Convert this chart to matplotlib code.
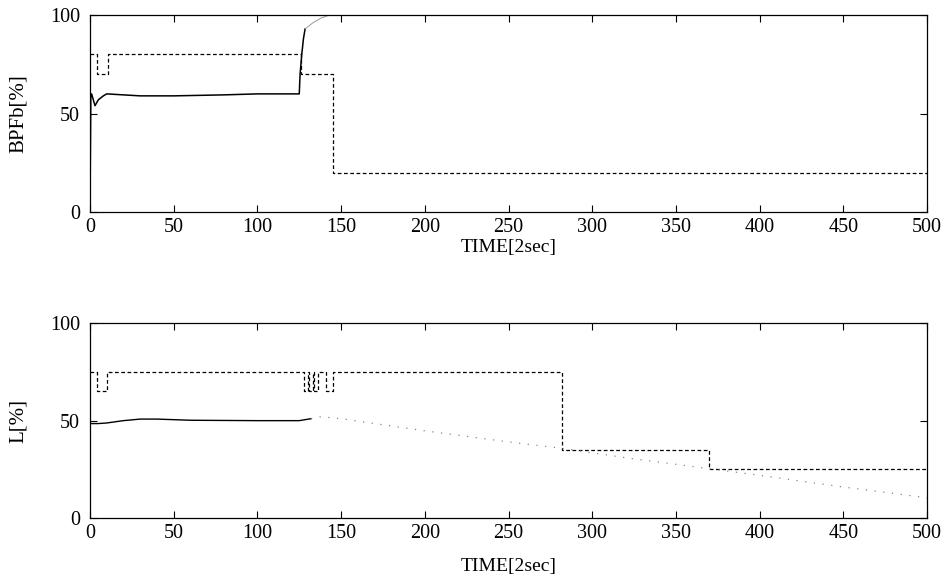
import matplotlib
matplotlib.use("Agg")
import matplotlib.pyplot as plt

# ---- data ----
# Top panel: BPFb[%]
bpf_ref_t = [0, 4, 11, 126, 145, 500]
bpf_ref_v = [80, 70, 80, 70, 20, 20]

bpf_act_t = [0, 0.5, 1, 2, 3, 5, 8, 10, 20, 30, 50, 80, 100, 125, 125.5, 126.5, 127.5, 128.5, 133, 138, 143, 500]
bpf_act_v = [0, 58, 60, 57, 54, 57, 59, 60, 59.5, 59, 59, 59.5, 60, 60, 70, 80, 88, 93, 96, 98.5, 100, 100]
bpf_split = 18  # index after which the trace appears faint

# Bottom panel: L[%]
l_ref_t = [0, 4, 10, 128, 130, 131, 133, 134, 136, 141, 145, 282, 370, 500]
l_ref_v = [75, 65, 75, 65, 75, 65, 75, 65, 75, 65, 75, 35, 25, 25]

l_act_t = [0, 5, 10, 20, 30, 40, 60, 100, 125, 132, 138, 150, 200, 250, 282, 320, 360, 400, 450, 500]
l_act_v = [48.5, 48.5, 48.8, 50, 50.8, 50.8, 50.2, 50, 50, 51, 52, 51, 44.8, 39.1, 35.8, 31, 26.5, 22, 16, 10.5]
l_split = 10

xticks = [0, 50, 100, 150, 200, 250, 300, 350, 400, 450, 500]
yticks = [0, 50, 100]
xlabel = "TIME[2sec]"
ylabels = ["BPFb[%]", "L[%]"]

plt.rcParams['font.family'] = ['Liberation Serif', 'DejaVu Serif']
plt.rcParams['font.size'] = 14

fig = plt.figure(figsize=(9.47, 5.81), dpi=100)
ax1 = fig.add_axes([0.095, 0.635, 0.884, 0.339])
ax2 = fig.add_axes([0.095, 0.108, 0.884, 0.336])

def style(ax, ylab, xpad):
    ax.set_xlim(0, 500)
    ax.set_ylim(0, 100)
    ax.set_xticks(xticks)
    ax.set_yticks(yticks)
    ax.tick_params(direction='in', top=True, right=True, length=5, width=0.8,
                   labelsize=14.5)
    ax.tick_params(axis='x', pad=4)
    ax.tick_params(axis='y', pad=7)
    for s in ax.spines.values():
        s.set_linewidth(0.9)
        s.set_color('black')
    ax.set_xlabel(xlabel, fontsize=14, labelpad=xpad)
    ax.set_ylabel(ylab, fontsize=15, labelpad=16)

ax1.plot(bpf_ref_t, bpf_ref_v, drawstyle='steps-post', color='black',
         linestyle=(0, (3, 2)), linewidth=0.9)
ax1.plot(bpf_act_t[:bpf_split], bpf_act_v[:bpf_split], color='black', linewidth=1.1)
ax1.plot(bpf_act_t[bpf_split - 1:], bpf_act_v[bpf_split - 1:], color='#999999', linewidth=0.7)
style(ax1, ylabels[0], 2)

ax2.plot(l_ref_t, l_ref_v, drawstyle='steps-post', color='black',
         linestyle=(0, (3, 2)), linewidth=0.9)
ax2.plot(l_act_t[:l_split], l_act_v[:l_split], color='black', linewidth=1.0)
ax2.plot(l_act_t[l_split - 1:], l_act_v[l_split - 1:], color='#888888',
         linestyle=(0, (1, 6)), linewidth=0.9)
style(ax2, ylabels[1], 11)

fig.savefig("out.png", dpi=100)
